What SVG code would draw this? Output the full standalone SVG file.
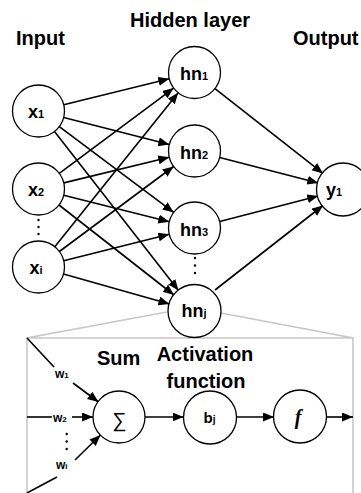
<svg xmlns="http://www.w3.org/2000/svg" width="361" height="493" viewBox="0 0 361 493">
<style>
.n{fill:#fff;stroke:#000;stroke-width:1.3}
.c{stroke:#000;stroke-width:1.6;fill:none}
.a{marker-end:url(#ah)}
.g{stroke:#c8c8c8;stroke-width:1.6;fill:none}
.t{font-family:"Liberation Sans",Arial,sans-serif;font-weight:bold;fill:#000}
.h{font-size:20px}
.l{font-size:18px;text-anchor:middle}
.s{font-size:11px}
.w{font-size:12px}
.ws{font-size:8px}
.d{fill:#000}
</style>
<defs>
<marker id="ah" markerWidth="12" markerHeight="10" refX="11" refY="4.5" orient="auto" markerUnits="userSpaceOnUse">
<path d="M0,0 L11,4.5 L0,9 z" fill="#000"/>
</marker>
</defs>
<g id="titles" class="t h">
<text x="16" y="45">Input</text>
<text x="130" y="27">Hidden layer</text>
<text x="293" y="45">Output</text>
</g>
<g id="detail-frame">
<path class="g" d="M167,312 L27,338 L27,500 M221,313 L353,338 L353,500 M27,338 L353,338"/>
</g>
<g id="connectors">
<line class="c a" x1="63.7" y1="104.8" x2="169.3" y2="78.7"/>
<line class="c a" x1="63.7" y1="117.5" x2="169.3" y2="144.5"/>
<line class="c a" x1="59.3" y1="126.6" x2="173.7" y2="212.4"/>
<line class="c a" x1="54.5" y1="131.5" x2="178.5" y2="290.5"/>
<line class="c a" x1="59.3" y1="173.4" x2="173.7" y2="88.1"/>
<line class="c a" x1="63.8" y1="182.9" x2="169.2" y2="157.2"/>
<line class="c a" x1="63.7" y1="195.3" x2="169.3" y2="221.7"/>
<line class="c a" x1="59.0" y1="205.0" x2="174.0" y2="295.0"/>
<line class="c a" x1="54.8" y1="246.7" x2="178.2" y2="92.8"/>
<line class="c a" x1="59.4" y1="251.5" x2="173.6" y2="166.5"/>
<line class="c a" x1="63.7" y1="260.7" x2="169.3" y2="234.3"/>
<line class="c a" x1="63.5" y1="274.1" x2="169.5" y2="303.9"/>
<line class="c a" x1="215.0" y1="88.6" x2="323.0" y2="173.4"/>
<line class="c a" x1="219.7" y1="157.5" x2="318.3" y2="183.0"/>
<line class="c a" x1="219.7" y1="221.5" x2="318.3" y2="196.0"/>
<line class="c a" x1="215.0" y1="290.0" x2="323.0" y2="205.5"/>
<line class="c" x1="27" y1="338" x2="54" y2="367"/>
<line class="c a" x1="73" y1="383" x2="98.5" y2="402"/>
<line class="c" x1="27" y1="417" x2="52" y2="417"/>
<line class="c a" x1="72" y1="417" x2="93" y2="417"/>
<line class="c" x1="27" y1="493" x2="57" y2="477"/>
<line class="c a" x1="75" y1="460" x2="100.5" y2="435"/>
<line class="c a" x1="145" y1="417" x2="183.5" y2="417"/>
<line class="c a" x1="236.5" y1="417" x2="274" y2="417"/>
<line class="c a" x1="326" y1="417" x2="353" y2="417"/>
</g>
<g id="x1"><circle class="n" cx="38.5" cy="111" r="26"/><text class="t l" x="36" y="118">x<tspan class="s" font-size="10px">1</tspan></text></g>
<g id="x2"><circle class="n" cx="38.5" cy="189" r="26"/><text class="t l" x="36" y="196">x<tspan class="s" font-size="10px">2</tspan></text></g>
<g id="xdots" class="d"><circle cx="38.5" cy="220" r="1.2"/><circle cx="38.5" cy="227" r="1.2"/><circle cx="38.5" cy="234" r="1.2"/></g>
<g id="xi"><circle class="n" cx="38.5" cy="267" r="26"/><text class="t l" x="36" y="274">x<tspan class="s" font-size="10px">i</tspan></text></g>
<g id="hn1"><circle class="n" cx="194.5" cy="72.5" r="26"/><text class="t l" x="194" y="80">hn<tspan class="s">1</tspan></text></g>
<g id="hn2"><circle class="n" cx="194.5" cy="151" r="26"/><text class="t l" x="194" y="158.5">hn<tspan class="s">2</tspan></text></g>
<g id="hn3"><circle class="n" cx="194.5" cy="228" r="26"/><text class="t l" x="194" y="235.5">hn<tspan class="s">3</tspan></text></g>
<g id="hdots" class="d"><circle cx="195" cy="258" r="1.2"/><circle cx="195" cy="265.5" r="1.2"/><circle cx="195" cy="273" r="1.2"/></g>
<g id="hnj"><circle class="n" cx="194.5" cy="311" r="26.5"/><text class="t l" x="194" y="317">hn<tspan class="s">j</tspan></text></g>
<g id="y1"><circle class="n" cx="343" cy="189.5" r="26.5"/><text class="t l" x="334" y="195.5">y<tspan class="s">1</tspan></text></g>
<g id="labels" class="t">
<text class="h" x="97" y="365">Sum</text>
<text class="h" x="205" y="361" text-anchor="middle">Activation</text>
<text class="h" x="206" y="388" text-anchor="middle">function</text>
<text class="w" x="55" y="377.5">w<tspan class="ws">1</tspan></text>
<text class="w" x="53" y="422">w<tspan class="ws">2</tspan></text>
<text class="w" x="56" y="469">w<tspan class="ws">i</tspan></text>
</g>
<g id="wdots" class="d"><circle cx="66.7" cy="434" r="1.2"/><circle cx="66.7" cy="441.5" r="1.2"/><circle cx="66.7" cy="449" r="1.2"/></g>
<g id="sum"><circle class="n" cx="119" cy="417" r="26"/><text x="119.5" y="427" font-family="'Liberation Sans','DejaVu Sans',sans-serif" font-size="20px" text-anchor="middle">∑</text></g>
<g id="bj"><circle class="n" cx="210" cy="417.5" r="26.5"/><text class="t" x="209.5" y="423" text-anchor="middle" font-size="15px">b<tspan font-size="10px">j</tspan></text></g>
<g id="f"><circle class="n" cx="300" cy="416.5" r="26.5"/><text x="298" y="424" font-family="'Liberation Serif',serif" font-style="italic" font-weight="bold" font-size="20px" text-anchor="middle">f</text></g>
</svg>
